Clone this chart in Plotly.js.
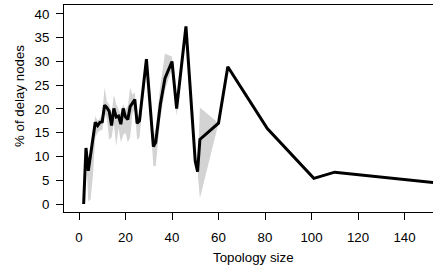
<!DOCTYPE html>
<html>
<head>
<meta charset="utf-8">
<script src="https://cdn.plot.ly/plotly-3.0.1.min.js"></script>
<style>html,body{margin:0;padding:0;background:#fff;}#chart{width:433px;height:268px;}</style>
</head>
<body>
<div id="chart"></div>
<script>
const topologySize = [2, 3, 4, 5, 6, 7, 8, 9, 10, 11, 12, 13, 14, 15, 16, 17, 18, 19, 20, 21, 22, 23, 24, 25, 26, 29, 32, 33, 35, 37, 40, 42, 46, 50, 51, 52, 60, 64, 81, 101, 110, 155];
const delayPct     = [0, 11.8, 7, 10.5, 13.5, 17.2, 16.5, 17.2, 17.3, 20.8, 20.3, 19.5, 16.5, 20.1, 18.3, 18.5, 16.8, 20.1, 18.3, 17.8, 20.5, 21.2, 22, 17, 17.5, 30.5, 12.1, 13, 21, 26.5, 30, 20.1, 37.4, 9, 6.8, 13.6, 17, 28.9, 15.9, 5.4, 6.7, 4.4];
const bandLow      = [0, 11, 0.5, 1, 6, 14, 15, 15.5, 15.5, 19, 18, 13.5, 14, 17, 12.2, 16, 13, 14.5, 15, 13, 14, 19, 20, 13.5, 14, 29, 8, 8, 18, 24, 28.5, 18.5, 37, 9, 6.8, 1.2, 17, 28.9, 15.9, 5.4, 6.7, 4.4];
const bandHigh     = [0, 12, 8, 11.5, 16, 18.5, 17.5, 18, 19, 24.5, 21.5, 21, 19, 23, 21, 20, 19, 21, 20, 20.5, 24.5, 23, 23.5, 18, 19, 31, 14, 16, 25, 31.7, 31, 22, 37.8, 9, 6.8, 20.3, 17, 28.9, 15.9, 5.4, 6.7, 4.4];
const xTicks = [0, 20, 40, 60, 80, 100, 120, 140];
const yTicks = [0, 5, 10, 15, 20, 25, 30, 35, 40];
const xTitle = 'Topology size';
const yTitle = '% of delay nodes';

const bandX = topologySize.concat(topologySize.slice().reverse());
const bandY = bandHigh.concat(bandLow.slice().reverse());

const traces = [
  {x: bandX, y: bandY, type: 'scatter', mode: 'lines', fill: 'toself',
   fillcolor: '#d3d3d3', line: {width: 0, color: 'rgba(0,0,0,0)'}, hoverinfo: 'skip', showlegend: false},
  {x: topologySize, y: delayPct, type: 'scatter', mode: 'lines',
   line: {color: '#000', width: 3}, showlegend: false}
];

const font = {family: '"Liberation Sans", Arial, sans-serif', size: 13.3, color: '#000'};
const layout = {
  width: 433, height: 268,
  margin: {l: 64, r: 0, t: 5, b: 56, pad: 0},
  paper_bgcolor: '#fff', plot_bgcolor: '#fff',
  font: font,
  showlegend: false,
  xaxis: {
    range: [-6.45, 152.26], tickvals: xTicks, ticktext: xTicks.map(String),
    ticks: 'outside', ticklen: 7, tickwidth: 1, tickcolor: '#000',
    ticklabelstandoff: 6,
    showline: true, linecolor: '#000', linewidth: 1, mirror: true,
    showgrid: false, zeroline: false, tickfont: font
  },
  yaxis: {
    range: [-1.684, 41.89], tickvals: yTicks, ticktext: yTicks.map(String),
    ticks: 'outside', ticklen: 7, tickwidth: 1, tickcolor: '#000',
    ticklabelstandoff: 4,
    showline: true, linecolor: '#000', linewidth: 1, mirror: false,
    showgrid: false, zeroline: false, tickfont: font
  },
  annotations: [
    {text: xTitle, xref: 'paper', yref: 'paper', x: 0.5122, y: -0.2222,
     xanchor: 'center', yanchor: 'middle', showarrow: false, font: font},
    {text: yTitle, xref: 'paper', yref: 'paper', x: -0.1192, y: 0.5604, textangle: -90,
     xanchor: 'center', yanchor: 'middle', showarrow: false, font: font}
  ]
};
Plotly.newPlot('chart', traces, layout, {staticPlot: true, displayModeBar: false});
</script>
</body>
</html>
